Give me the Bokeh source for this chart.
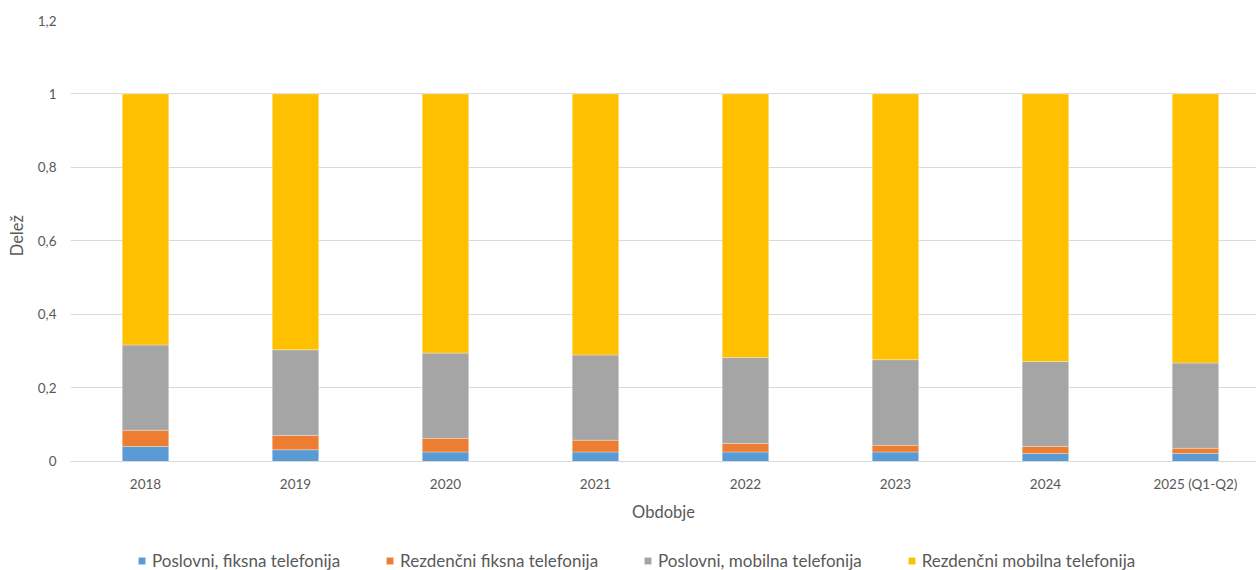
from bokeh.plotting import figure
from bokeh.models import ColumnDataSource, Range1d, Legend, LegendItem, FixedTicker
from bokeh.embed import file_html
from bokeh.resources import INLINE

# Periods and the share of each segment (stacked to 1)
periods = ["2018", "2019", "2020", "2021", "2022", "2023", "2024", "2025 (Q1-Q2)"]
poslovni_fiksna = [0.041, 0.032, 0.026, 0.026, 0.026, 0.026, 0.022, 0.022]
rezidencni_fiksna = [0.044, 0.039, 0.037, 0.032, 0.023, 0.018, 0.019, 0.014]
poslovni_mobilna = [0.232, 0.233, 0.232, 0.232, 0.234, 0.233, 0.231, 0.232]
rezidencni_mobilna = [0.683, 0.696, 0.705, 0.710, 0.717, 0.723, 0.728, 0.732]

series_names = ["Poslovni, fiksna telefonija", "Rezdenčni fiksna telefonija",
                "Poslovni, mobilna telefonija", "Rezdenčni mobilna telefonija"]
series_keys = ["pf", "rf", "pm", "rm"]
colors = ["#5B9BD5", "#ED7D31", "#A5A5A5", "#FFC000"]

y_ticks = [0, 0.2, 0.4, 0.6, 0.8, 1.0, 1.2]
y_tick_labels = ["0", "0,2", "0,4", "0,6", "0,8", "1", "1,2"]

FONT = "Lato"
TEXT = "#595959"
GRID = "#D9D9D9"

xs = list(range(len(periods)))
source = ColumnDataSource(dict(
    x=xs,
    pf=poslovni_fiksna,
    rf=rezidencni_fiksna,
    pm=poslovni_mobilna,
    rm=rezidencni_mobilna,
))

# the frame runs to the bottom edge; the band below 0 holds the axis texts and legend
p = figure(
    width=1256, height=570,
    output_backend="svg", toolbar_location=None,
    x_range=Range1d(-0.5, 7.407), y_range=Range1d(-0.2966, 1.2),
    min_border_left=70, min_border_right=0, min_border_top=20, min_border_bottom=0,
)
p.outline_line_color = None
p.background_fill_color = "white"
p.border_fill_color = "white"

renderers = p.vbar_stack(series_keys, x="x", width=0.31, source=source,
                         color=colors, line_color="white", line_width=0.6, line_alpha=0.5)

# Y axis
p.yaxis.ticker = FixedTicker(ticks=y_ticks)
p.yaxis.major_label_overrides = {t: l for t, l in zip(y_ticks, y_tick_labels)}
p.yaxis.axis_line_color = None
p.yaxis.major_tick_line_color = None
p.yaxis.minor_tick_line_color = None
p.yaxis.major_label_text_font = FONT
p.yaxis.major_label_text_font_size = "13.5px"
p.yaxis.major_label_text_color = TEXT
p.yaxis.major_label_standoff = 8
# leading em spaces lift the title to the middle of the 0..1,2 span
p.yaxis.axis_label = "\u2003" * 9 + "\u2002" + "Delež"
p.yaxis.axis_label_text_font = FONT
p.yaxis.axis_label_text_font_size = "16.5px"
p.yaxis.axis_label_text_font_style = "normal"
p.yaxis.axis_label_text_color = TEXT
p.yaxis.axis_label_standoff = 8

# X axis, pinned to y = 0
p.xaxis.fixed_location = 0
p.xaxis.ticker = FixedTicker(ticks=xs)
p.xaxis.major_label_overrides = {i: l for i, l in zip(xs, periods)}
p.xaxis.axis_line_color = GRID
p.xaxis.axis_line_width = 1
p.xaxis.major_tick_line_color = None
p.xaxis.minor_tick_line_color = None
p.xaxis.major_label_text_font = FONT
p.xaxis.major_label_text_font_size = "13.5px"
p.xaxis.major_label_text_color = TEXT
p.xaxis.major_label_standoff = 9
p.xaxis.axis_label = "Obdobje"
p.xaxis.axis_label_text_font = FONT
p.xaxis.axis_label_text_font_size = "16.5px"
p.xaxis.axis_label_text_font_style = "normal"
p.xaxis.axis_label_text_color = TEXT
p.xaxis.axis_label_standoff = 6

p.xgrid.grid_line_color = None
p.ygrid.grid_line_color = GRID
p.ygrid.grid_line_width = 1

legend = Legend(
    items=[LegendItem(label=n, renderers=[r]) for n, r in zip(series_names, renderers)],
    orientation="horizontal",
    location=(67, -1),
    label_text_font=FONT,
    label_text_font_size="17px",
    label_text_color=TEXT,
    glyph_width=9, glyph_height=9,
    label_standoff=6,
    spacing=45,
    padding=0, margin=0,
    border_line_color=None,
    background_fill_alpha=0,
)
p.add_layout(legend, "center")

open("out.html", "w").write(file_html(p, INLINE))
